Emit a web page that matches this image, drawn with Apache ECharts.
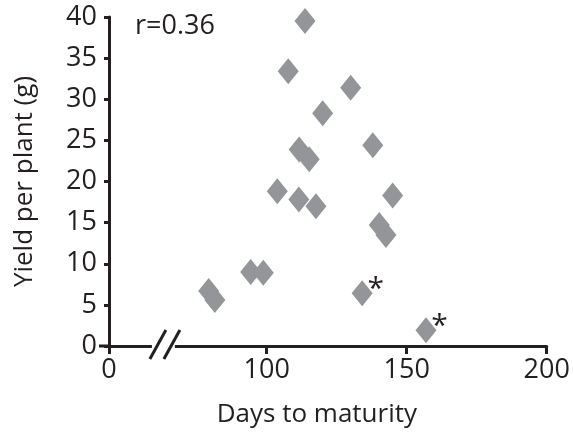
<!DOCTYPE html>
<html>
<head>
<meta charset="utf-8">
<script src="https://cdn.jsdelivr.net/npm/echarts@6/dist/echarts.min.js"></script>
<style>html,body{margin:0;padding:0;background:#fff}#c{width:573px;height:433px}</style>
</head>
<body>
<div id="c"></div>
<script>
// Days to maturity
const days = [113.7, 107.7, 130.0, 120.0, 111.6, 115.2, 137.9, 103.8, 111.5, 117.6, 145.0, 140.2, 142.6, 94.3, 98.8, 79.3, 81.5, 134.1, 156.9];
// Yield per plant (g)
const yields = [39.5, 33.4, 31.4, 28.3, 23.9, 22.7, 24.4, 18.8, 17.8, 17.0, 18.3, 14.7, 13.5, 9.0, 8.9, 6.7, 5.6, 6.4, 1.9];
// points flagged with an asterisk (indices)
const flagged = [17, 18];
const xTickValues = [100, 150, 200];
const yTicks = { min: 0, max: 40, interval: 5 };
const xMinShown = 43.7;   // axis is broken: the left end is labelled "0"
const xMax = 200;
const corrText = 'r=0.36';

const FONT = '"Open Sans"';
const INK = '#231f20';
const GRAY = '#939598';

const chart = echarts.init(document.getElementById('c'), null, { renderer: 'canvas' });

const data = days.map((d, i) => {
  const item = { value: [d, yields[i]] };
  if (flagged.includes(i)) {
    item.label = {
      show: true, formatter: '*', position: [24, 9], align: 'center', verticalAlign: 'middle',
      color: INK, fontSize: 30, fontFamily: FONT
    };
  }
  return item;
});

chart.setOption({
  animation: false,
  grid: { left: 109, right: 26.3, top: 17, bottom: 87, containLabel: false },
  xAxis: {
    type: 'value', min: xMinShown, max: xMax,
    name: 'Days to maturity', nameLocation: 'middle', nameGap: 56,
    nameTextStyle: { fontFamily: FONT, fontSize: 26, color: INK, padding: [0, 22, 0, 0] },
    axisLine: { show: true, onZero: false, lineStyle: { color: INK, width: 3 } },
    axisTick: { show: true, length: 8, lineStyle: { color: INK, width: 3 }, customValues: [xMinShown].concat(xTickValues) },
    axisLabel: {
      customValues: [xMinShown].concat(xTickValues), margin: 11,
      fontFamily: FONT, fontSize: 27, color: INK,
      formatter: v => (Math.abs(v - xMinShown) < 1e-6 ? '0' : String(v))
    },
    splitLine: { show: false }
  },
  yAxis: {
    type: 'value', min: yTicks.min, max: yTicks.max, interval: yTicks.interval,
    name: 'Yield per plant (g)', nameLocation: 'middle', nameGap: 71,
    nameTextStyle: { fontFamily: FONT, fontSize: 26, color: INK },
    axisLine: { show: true, lineStyle: { color: INK, width: 3 } },
    axisTick: { show: true, length: 5, lineStyle: { color: INK, width: 3 } },
    axisLabel: { margin: 12, fontFamily: FONT, fontSize: 27, color: INK },
    splitLine: { show: false }
  },
  series: [{
    type: 'scatter',
    symbol: 'diamond',
    symbolSize: [21, 26],
    itemStyle: { color: GRAY, opacity: 1 },
    data: data
  }]
});

// decorations: axis break marks, x-axis extension at origin, correlation text
const p0 = chart.convertToPixel({ gridIndex: 0 }, [xMinShown, 0]);
const pTop = chart.convertToPixel({ gridIndex: 0 }, [xMinShown, yTicks.max]);
const pb = chart.convertToPixel({ gridIndex: 0 }, [63.3, 0]);
const bx = pb[0], by = pb[1];
chart.setOption({
  graphic: [
    { type: 'line', shape: { x1: p0[0] - 10, y1: p0[1], x2: p0[0], y2: p0[1] }, style: { stroke: INK, lineWidth: 3 }, z: 10 },
    { type: 'rect', shape: { x: bx - 12, y: by - 3, width: 23, height: 6 }, style: { fill: '#fff' }, z: 10 },
    { type: 'line', shape: { x1: bx - 14, y1: by + 13, x2: bx + 2, y2: by - 16 }, style: { stroke: INK, lineWidth: 3 }, z: 11 },
    { type: 'line', shape: { x1: bx, y1: by + 13, x2: bx + 16, y2: by - 16 }, style: { stroke: INK, lineWidth: 3 }, z: 11 },
    { type: 'text', x: pTop[0] + 26, y: pTop[1] + 9, style: { text: corrText, fontFamily: FONT, fontSize: 27, fill: INK, textVerticalAlign: 'middle' }, z: 11 }
  ]
});
</script>
</body>
</html>
